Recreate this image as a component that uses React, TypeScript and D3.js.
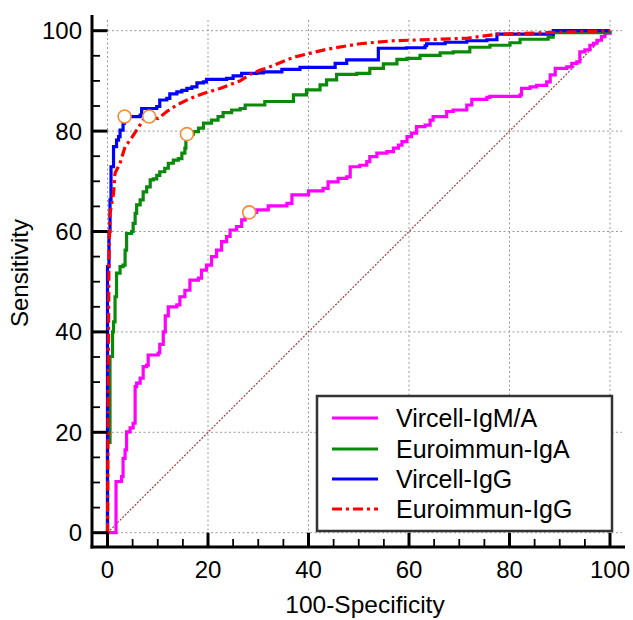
import React from "react";
import * as d3 from "d3";

type Pt = [number, number];

const seriesNames = ["Vircell-IgM/A", "Euroimmun-IgA", "Vircell-IgG", "Euroimmun-IgG"];
const seriesColors = ["#ff00ff", "#0a8a0a", "#0000ff", "#ff0000"];

const vircellIgMA: Pt[] = [
  [0, 0], [1.7, 0], [1.7, 10.2], [2.8, 11.2], [3.1, 14.8], [3.5, 16.5], [3.8, 20.1], [4.5, 20.9],
  [5.1, 21.8], [5.5, 29.1], [5.8, 29.8], [6.5, 30.8], [7.1, 33.1], [7.8, 33.4], [8.1, 35.4],
  [10.1, 35.8], [10.4, 37.5], [11.1, 40.0], [11.5, 43.2], [12.1, 45.0], [13.8, 45.4], [14.4, 47.0],
  [15.4, 48.3], [16.4, 50.3], [18.1, 50.7], [18.7, 52.3], [19.7, 53.3], [20.7, 55.0], [21.7, 56.3],
  [22.7, 58.0], [23.7, 59.0], [24.4, 60.3], [25.7, 61.0], [26.7, 62.3], [27.4, 63.6], [28.2, 63.8],
  [29.7, 64.3], [32.0, 65.1], [35.7, 65.6], [36.7, 67.3], [40.0, 68.1], [42.9, 68.6], [43.9, 69.9],
  [45.9, 70.6], [47.6, 70.9], [48.3, 72.9], [50.2, 73.2], [51.6, 73.9], [52.2, 74.9], [53.6, 75.6],
  [55.6, 75.9], [56.9, 76.6], [57.9, 77.2], [58.6, 77.9], [59.6, 78.9], [60.5, 79.6], [61.5, 80.9],
  [63.2, 81.2], [64.2, 82.2], [64.8, 82.9], [67.5, 83.9], [68.8, 84.2], [71.5, 85.2], [72.5, 86.3],
  [75.5, 86.7], [76.1, 86.9], [82.1, 87.2], [82.4, 88.5], [84.1, 88.8], [85.4, 89.1], [87.4, 89.8],
  [88.1, 91.2], [89.1, 92.5], [91.4, 92.8], [92.4, 93.5], [93.4, 93.8], [94.0, 95.8], [95.0, 96.2],
  [96.0, 97.1], [96.7, 97.5], [97.4, 98.1], [98.3, 98.8], [99.0, 99.5], [100, 100],
];

const euroimmunIgA: Pt[] = [
  [0, 0], [0, 18], [0.5, 35.1], [1.0, 40.0], [1.2, 42], [1.5, 47.0], [1.8, 51.7], [2.5, 53.0],
  [3.1, 53.3], [3.5, 56.3], [3.8, 59.6], [4.8, 60.0], [5.1, 61.6], [5.5, 63.6], [5.8, 65.3],
  [6.5, 66.3], [7.1, 67.9], [7.8, 68.9], [8.5, 70.3], [9.1, 70.5], [9.8, 71.2], [10.4, 71.9],
  [11.4, 72.6], [12.1, 73.6], [13.1, 74.2], [14.1, 74.5], [14.8, 75.6], [15.4, 76.6], [15.6, 79.2],
  [15.8, 79.4], [17.1, 79.9], [18.1, 80.6], [19.1, 81.6], [20.7, 82.2], [22.0, 82.9], [23.0, 83.7],
  [24.7, 84.2], [26.4, 84.5], [27.4, 85.2], [31.3, 85.9], [37.0, 87.2], [39.6, 88.2], [42.3, 89.2],
  [43.6, 90.2], [45.6, 91.3], [49.6, 91.5], [52.2, 92.5], [54.9, 93.4], [57.6, 94.3], [59.6, 94.5],
  [62.2, 95.1], [66.2, 95.6], [68.8, 95.8], [72.1, 96.7], [76.1, 97.1], [80.1, 97.6], [82.1, 98.3],
  [87.7, 98.7], [88.7, 99.6], [100, 100],
];

const vircellIgG: Pt[] = [
  [0, 0], [0, 53], [0.3, 60], [0.5, 66.3], [0.7, 72.9], [1.2, 76.9], [1.8, 78.2], [2.2, 78.9],
  [2.5, 80.2], [3.1, 81.6], [3.4, 82.9], [6.5, 83.2], [6.8, 84.5], [9.8, 84.9], [10.4, 86.2],
  [11.8, 86.5], [12.4, 87.4], [13.8, 87.8], [14.8, 88.1], [15.8, 88.5], [16.8, 88.8], [17.8, 89.6],
  [19.1, 89.8], [19.7, 90.3], [23.7, 90.5], [25.0, 91.0], [26.7, 91.5], [29.7, 91.6], [31.0, 91.8],
  [34.7, 92.3], [38.3, 92.7], [45.3, 93.5], [47.6, 94.2], [53.9, 96.5], [59.5, 96.6], [63.2, 97.0],
  [63.5, 97.4], [67.2, 97.7], [71.5, 98.0], [75.5, 98.2], [77.5, 99.3], [88.7, 100], [100, 100],
];

const euroimmunIgG: Pt[] = [
  [0, 0], [0.2, 40], [0.3, 55], [0.5, 63.6], [1.2, 67.6], [1.5, 71.6], [2.5, 73.6], [3.5, 76.9],
  [4.5, 78.2], [5.8, 80.2], [7.1, 82.2], [8.3, 82.9], [10.1, 82.5], [11.8, 83.9], [13.8, 85.2],
  [16.4, 86.5], [19.1, 87.5], [22.4, 88.5], [26.4, 90.0], [28.4, 91.3], [30.3, 92.1], [32.3, 92.8],
  [37.0, 94.7], [43.6, 96.3], [50.2, 97.4], [56.9, 98.0], [66.2, 98.3], [71.5, 98.5], [77.5, 99.3],
  [100, 100],
];

// optimal cut-off points (criterion markers)
const cutoffPoints: Pt[] = [[28.2, 63.8], [15.8, 79.4], [3.4, 82.9], [8.3, 82.9]];

const majorTicks = [0, 20, 40, 60, 80, 100];
const minorTicks = d3.range(0, 101, 5).filter((v) => v % 20 !== 0);

const FONT = "'Liberation Sans', Arial, Helvetica, sans-serif";

export default function App() {
  const x = d3.scaleLinear().domain([0, 100]).range([107.5, 610]);
  const y = d3.scaleLinear().domain([0, 100]).range([532.7, 30.7]);

  const stepLine = d3.line<Pt>().x((d) => x(d[0])).y((d) => y(d[1])).curve(d3.curveStepAfter);
  const smoothLine = d3.line<Pt>().x((d) => x(d[0])).y((d) => y(d[1])).curve(d3.curveLinear);

  const axisX = 92;
  const axisY = 547;
  const gridRight = 622;
  const gridTop = 20;

  const series = [vircellIgMA, euroimmunIgA, vircellIgG, euroimmunIgG];

  const legendRows = [418, 449, 479, 509];

  return (
    <svg
      width={633}
      height={620}
      style={{ position: "absolute", left: 0, top: 0, background: "#fff" }}
      fontFamily={FONT}
    >
      <rect x={0} y={0} width={633} height={620} fill="#fff" />
      {/* grid */}
      <g stroke="#9a9a9a" strokeWidth={1} strokeDasharray="2,2.5">
        {majorTicks.map((t) => (
          <line key={"gy" + t} x1={x(0)} x2={gridRight} y1={y(t)} y2={y(t)} />
        ))}
        {majorTicks.map((t) => (
          <line key={"gx" + t} x1={x(t)} x2={x(t)} y1={gridTop} y2={axisY} />
        ))}
      </g>
      {/* diagonal reference */}
      <line
        x1={x(0)}
        y1={y(0)}
        x2={x(100)}
        y2={y(100)}
        stroke="#a0403a"
        strokeWidth={1.2}
        strokeDasharray="2,1.5"
      />
      {/* curves */}
      {series.map((s, i) => (
        <path
          key={seriesNames[i]}
          d={(i === 3 ? smoothLine(s) : stepLine(s)) || ""}
          fill="none"
          stroke={seriesColors[i]}
          strokeWidth={3.2}
          strokeDasharray={i === 3 ? "10,4,3,4" : undefined}
          strokeLinejoin="miter"
        />
      ))}
      {/* markers */}
      {cutoffPoints.map((p, i) => (
        <circle
          key={"m" + i}
          cx={x(p[0])}
          cy={y(p[1])}
          r={6.5}
          fill="#fff"
          stroke="#f58a32"
          strokeWidth={1.6}
        />
      ))}
      {/* axes */}
      <g stroke="#000">
        <line x1={axisX} x2={axisX} y1={15} y2={axisY + 1.5} strokeWidth={3} />
        <line x1={axisX - 1.5} x2={625} y1={axisY} y2={axisY} strokeWidth={3} />
        {majorTicks.map((t) => (
          <line key={"ty" + t} x1={axisX} x2={x(0)} y1={y(t)} y2={y(t)} strokeWidth={3} />
        ))}
        {minorTicks.map((t) => (
          <line key={"mty" + t} x1={axisX} x2={axisX + 8} y1={y(t)} y2={y(t)} strokeWidth={1.8} />
        ))}
        {majorTicks.map((t) => (
          <line key={"tx" + t} x1={x(t)} x2={x(t)} y1={axisY} y2={y(0)} strokeWidth={3} />
        ))}
        {minorTicks.map((t) => (
          <line key={"mtx" + t} x1={x(t)} x2={x(t)} y1={axisY} y2={axisY - 8} strokeWidth={1.8} />
        ))}
      </g>
      {/* tick labels */}
      <g fontSize={24} fill="#000">
        {majorTicks.map((t) => (
          <text key={"ly" + t} x={82} y={y(t)} dy="0.35em" textAnchor="end">
            {t}
          </text>
        ))}
        {majorTicks.map((t) => (
          <text key={"lx" + t} x={x(t)} y={578} textAnchor="middle">
            {t}
          </text>
        ))}
      </g>
      {/* axis titles */}
      <text x={365} y={613} fontSize={24.5} textAnchor="middle">
        100-Specificity
      </text>
      <text
        transform="translate(28,273) rotate(-90)"
        fontSize={24}
        textAnchor="middle"
      >
        Sensitivity
      </text>
      {/* legend */}
      <rect x={317} y={396} width={295} height={135} fill="#fff" stroke="#333" strokeWidth={2.5} />
      {seriesNames.map((n, i) => (
        <g key={"lg" + n}>
          <line
            x1={332}
            x2={378}
            y1={legendRows[i]}
            y2={legendRows[i]}
            stroke={seriesColors[i]}
            strokeWidth={3}
            strokeDasharray={i === 3 ? "10,4,3,4" : undefined}
          />
          <text x={396} y={legendRows[i]} dy="0.36em" fontSize={25}>
            {n}
          </text>
        </g>
      ))}
    </svg>
  );
}
